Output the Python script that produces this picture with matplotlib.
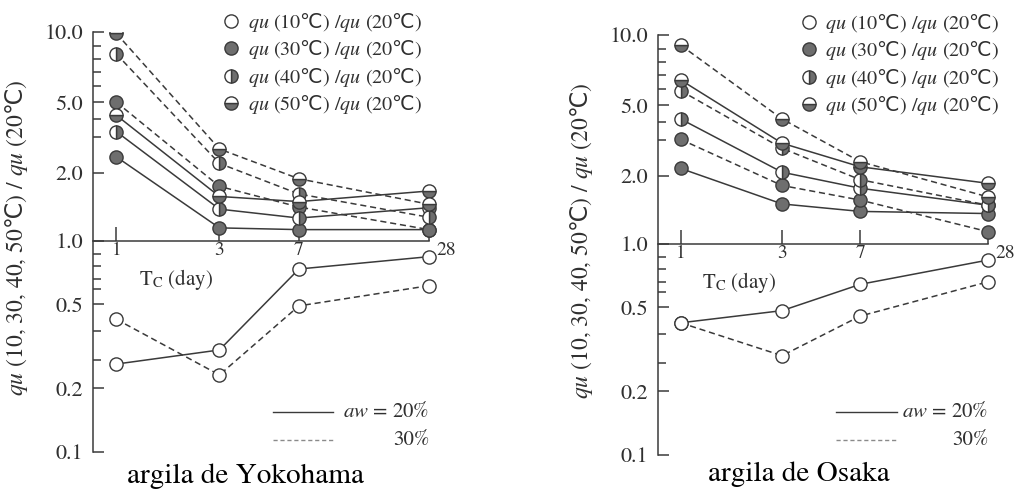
import numpy as np
import matplotlib
matplotlib.use('Agg')
import matplotlib.pyplot as plt
from matplotlib.lines import Line2D
from matplotlib.ticker import FixedLocator, FixedFormatter, NullFormatter, NullLocator

plt.rcParams['font.family'] = ['STIXGeneral', 'DejaVu Serif']
# Times-like math text; the Celsius sign comes from DejaVu through \mathsf
plt.rcParams['mathtext.fontset'] = 'custom'
plt.rcParams['mathtext.rm'] = 'STIXGeneral'
plt.rcParams['mathtext.it'] = 'STIXGeneral:italic'
plt.rcParams['mathtext.sf'] = 'DejaVu Sans'

# curing time (days)
days = [1, 3, 7, 28]

# qu(T) / qu(20C), Yokohama clay, water content aw = 20 % and 30 %
yoko_10_w20 = [0.283, 0.332, 0.777, 0.876]
yoko_10_w30 = [0.442, 0.242, 0.493, 0.633]
yoko_30_w20 = [2.39, 1.14, 1.12, 1.12]
yoko_30_w30 = [5.0, 1.74, 1.41, 1.12]
yoko_40_w20 = [3.26, 1.38, 1.26, 1.40]
yoko_40_w30 = [8.4, 2.22, 1.61, 1.27]
yoko_50_w20 = [4.22, 1.57, 1.49, 1.66]
yoko_50_w30 = [9.9, 2.61, 1.88, 1.45]

# qu(T) / qu(20C), Osaka clay
osaka_10_w20 = [0.44, 0.486, 0.673, 0.873]
osaka_10_w30 = [0.44, 0.323, 0.465, 0.698]
osaka_30_w20 = [2.17, 1.50, 1.39, 1.36]
osaka_30_w30 = [3.01, 1.81, 1.56, 1.13]
osaka_40_w20 = [4.18, 2.08, 1.76, 1.48]
osaka_40_w30 = [5.9, 2.72, 1.92, 1.48]
osaka_50_w20 = [6.63, 2.88, 2.21, 1.85]
osaka_50_w30 = [9.28, 4.18, 2.34, 1.61]

temps = [10, 30, 40, 50]
deg_c = r'$\mathsf{℃}$'
legend_labels = [r'$\mathit{qu}$ (%d%s) /$\mathit{qu}$ (20%s)' % (t, deg_c, deg_c) for t in temps]

# graduation of the ratio axis as printed on the original paper scale
scale_vals = [0.1, 0.2, 0.3, 0.4, 0.5, 0.6, 0.7, 0.8, 0.9, 1, 2, 3, 4, 5, 6, 7, 8, 9, 10]
scale_pos = [0, 0.152, 0.219, 0.287, 0.352, 0.387, 0.413, 0.442, 0.472, 0.503,
             0.665, 0.751, 0.792, 0.833, 0.871, 0.905, 0.935, 0.966, 1.0]
log_vals = np.log10(scale_vals)


def fwd(v):
    v = np.clip(np.asarray(v, dtype=float), 1e-3, None)
    return np.interp(np.log10(v), log_vals, scale_pos)


def inv(p):
    return 10 ** np.interp(np.asarray(p, dtype=float), scale_pos, log_vals)


grey = '#6e6e6e'
ink = '#3a3a3a'
txt = '#303030'
dash = (0, (4, 2.5))

marker_style = {
    10: dict(markerfacecolor='white', fillstyle='full'),
    30: dict(markerfacecolor=grey, fillstyle='full'),
    40: dict(markerfacecolor=grey, markerfacecoloralt='white', fillstyle='right'),
    50: dict(markerfacecolor=grey, markerfacecoloralt='white', fillstyle='bottom'),
}


def draw_panel(ax, series, leg_anchor, key_x, key_y):
    ax.set_xscale('log')
    ax.set_yscale('function', functions=(fwd, inv))
    ax.set_xlim(0.78, 33.2)
    ax.set_ylim(0.1, 10)

    # lines first, markers on top
    for t, vals, ls in series:
        ax.plot(days, vals, color=ink, lw=1.1, linestyle=ls, zorder=2)
    for t, vals, ls in series:
        ax.plot(days, vals, linestyle='none', marker='o', markersize=9.5,
                markeredgecolor=ink, markeredgewidth=1.0, zorder=3, **marker_style[t])

    for s in ['top', 'right']:
        ax.spines[s].set_visible(False)
    ax.spines['left'].set_bounds(0.1, 10)
    ax.spines['bottom'].set_position(('data', 1.0))
    ax.spines['bottom'].set_bounds(0.78, 28)
    for s in ['left', 'bottom']:
        ax.spines[s].set_color(ink)
        ax.spines[s].set_linewidth(1.1)

    ax.yaxis.set_major_locator(FixedLocator([0.1, 0.2, 0.5, 1, 2, 5, 10]))
    ax.yaxis.set_major_formatter(FixedFormatter(['0.1', '0.2', '0.5', '1.0', '2.0', '5.0', '10.0']))
    ax.yaxis.set_minor_locator(FixedLocator([0.3, 0.4, 0.6, 0.7, 0.8, 0.9, 3, 4, 6, 7, 8, 9]))
    ax.yaxis.set_minor_formatter(NullFormatter())
    ax.tick_params(axis='y', which='major', direction='in', length=8, width=1.1,
                   pad=7, labelsize=16, color=ink, labelcolor=txt)
    ax.tick_params(axis='y', which='minor', direction='in', length=6, width=1.1, color=ink)

    ax.xaxis.set_major_locator(FixedLocator(days))
    ax.xaxis.set_major_formatter(FixedFormatter(['1', '3', '7', '']))
    ax.xaxis.set_minor_locator(NullLocator())
    ax.tick_params(axis='x', direction='in', length=10, width=1.1, pad=1,
                   labelsize=14, color=ink, labelcolor=txt)
    ax.annotate('28', xy=(28, 1.0), xytext=(5, -1), textcoords='offset points',
                ha='left', va='top', fontsize=14, color=txt)

    ax.text(0.236, 0.41, r'T$_\mathrm{C}$ (day)', transform=ax.transAxes,
            ha='center', va='center', fontsize=15, color=txt)

    ax.set_ylabel(r'$\mathit{qu}$ (10, 30, 40, 50%s) / $\mathit{qu}$ (20%s)' % (deg_c, deg_c),
                  fontsize=17, color=txt)
    ax.yaxis.set_label_coords(-0.18, 0.51)

    handles = [Line2D([], [], linestyle='none', marker='o', markersize=9.5,
                      markeredgecolor=ink, markeredgewidth=1.0, **marker_style[t])
               for t in temps]
    ax.legend(handles, legend_labels, loc='upper left', bbox_to_anchor=leg_anchor,
              frameon=False, fontsize=14.5, handlelength=0.75, handletextpad=0.45,
              labelspacing=0.22, borderpad=0, borderaxespad=0, labelcolor=txt)

    # line-style key (water content)
    ax.plot(key_x, [key_y[0]] * 2, transform=ax.transAxes, color=ink, lw=1.0)
    ax.plot(key_x, [key_y[1]] * 2, transform=ax.transAxes, color='#8a8a8a', lw=1.0,
            linestyle=(0, (3, 2)))
    ax.text(0.955, key_y[0], r'$\mathit{aw}$ = 20%', transform=ax.transAxes,
            ha='right', va='center', fontsize=15, color=txt)
    ax.text(0.955, key_y[1], '30%', transform=ax.transAxes,
            ha='right', va='center', fontsize=15, color=txt)


fig = plt.figure(figsize=(10.21, 4.93), dpi=100)
ax_yoko = fig.add_axes([93 / 1021, 41 / 493, 352 / 1021, 420 / 493])
ax_osaka = fig.add_axes([657.7 / 1021, 38 / 493, 346.3 / 1021, 420 / 493])

draw_panel(ax_yoko,
           [(10, yoko_10_w20, '-'), (10, yoko_10_w30, dash),
            (30, yoko_30_w20, '-'), (30, yoko_30_w30, dash),
            (40, yoko_40_w20, '-'), (40, yoko_40_w30, dash),
            (50, yoko_50_w20, '-'), (50, yoko_50_w30, dash)],
           leg_anchor=(0.372, 1.05), key_x=[0.511, 0.682], key_y=[0.095, 0.029])
draw_panel(ax_osaka,
           [(10, osaka_10_w20, '-'), (10, osaka_10_w30, dash),
            (30, osaka_30_w20, '-'), (30, osaka_30_w30, dash),
            (40, osaka_40_w20, '-'), (40, osaka_40_w30, dash),
            (50, osaka_50_w20, '-'), (50, osaka_50_w30, dash)],
           leg_anchor=(0.414, 1.055), key_x=[0.515, 0.691], key_y=[0.102, 0.036])

fig.text(245 / 1021, 1 - 476 / 493, 'argila de Yokohama', ha='center', va='center',
         fontsize=21, color='black')
fig.text(799 / 1021, 1 - 474 / 493, 'argila de Osaka', ha='center', va='center',
         fontsize=21, color='black')

fig.savefig('out.png', dpi=100, facecolor='white')
